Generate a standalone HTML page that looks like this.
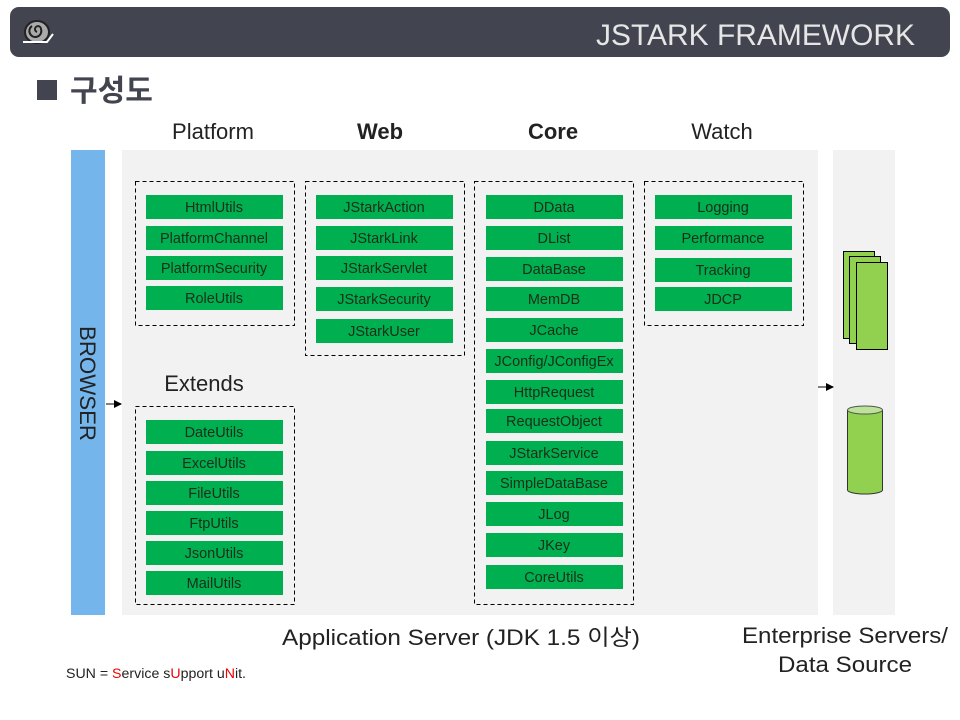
<!DOCTYPE html>
<html><head><meta charset="utf-8"><style>
html,body{margin:0;padding:0;background:#fff;width:960px;height:720px;overflow:hidden}
text{font-family:"Liberation Sans","Noto Sans CJK KR",sans-serif}
</style></head><body>
<svg width="960" height="720" viewBox="0 0 960 720" xmlns="http://www.w3.org/2000/svg">
<defs>
<marker id="ar" markerWidth="8" markerHeight="8" refX="7" refY="4" orient="auto" markerUnits="userSpaceOnUse"><path d="M0,0 L8,4 L0,8 z" fill="#000"/></marker>
</defs>
<rect x="10" y="7" width="940" height="50" rx="9" fill="#42444f"/>
<g transform="translate(37,32)">
<ellipse cx="0" cy="0" rx="12" ry="11" fill="#aaa" stroke="#222" stroke-width="2"/>
<path d="M0,0 a3,3 0 1,1 4,-3 a6,6 0 1,1 -9,-3" fill="none" stroke="#222" stroke-width="2"/>
<path d="M-14,10 L10,10 L16,2" fill="none" stroke="#fff" stroke-width="2"/>
</g>
<text x="596" y="45" fill="#e6e6e6" font-size="30" textLength="319" lengthAdjust="spacingAndGlyphs">JSTARK FRAMEWORK</text>
<rect x="37" y="80" width="20" height="20" fill="#42444f"/>
<text x="70" y="101" fill="#42444f" font-size="30" font-weight="bold">구성도</text>

<rect x="71" y="150" width="34" height="465" fill="#74b5ec"/>
<text transform="translate(80,326) rotate(90)" font-size="22" fill="#222" textLength="115" lengthAdjust="spacingAndGlyphs">BROWSER</text>
<rect x="122" y="150" width="696" height="465" fill="#f2f2f2"/>
<rect x="833" y="150" width="62" height="465" fill="#f2f2f2"/>

<g font-size="22" fill="#222" text-anchor="middle">
<text x="213" y="139">Platform</text>
<text x="380" y="139" font-weight="bold">Web</text>
<text x="553" y="139" font-weight="bold">Core</text>
<text x="722" y="139">Watch</text>
<text x="204" y="391">Extends</text>
<text x="461" y="645" textLength="358" lengthAdjust="spacingAndGlyphs">Application Server (JDK 1.5 이상)</text>
<text x="845" y="643" textLength="206" lengthAdjust="spacingAndGlyphs">Enterprise Servers/</text>
<text x="845" y="672" textLength="134" lengthAdjust="spacingAndGlyphs">Data Source</text>
</g>

<g fill="none" stroke="#000" stroke-width="1" stroke-dasharray="4,3">
<rect x="135.5" y="181.5" width="159" height="144"/>
<rect x="305.5" y="181.5" width="159" height="174"/>
<rect x="474.5" y="181.5" width="159" height="423"/>
<rect x="644.5" y="181.5" width="159" height="144"/>
<rect x="135.5" y="406.5" width="159" height="198"/>
</g>

<g font-size="14.5" fill="#1a2e1a" text-anchor="middle">
<g transform="translate(146,0)">
<rect y="195" width="137" height="24" fill="#00b050"/><text x="68" y="212">HtmlUtils</text>
<rect y="226" width="137" height="24" fill="#00b050"/><text x="68" y="243">PlatformChannel</text>
<rect y="256" width="137" height="24" fill="#00b050"/><text x="68" y="273">PlatformSecurity</text>
<rect y="286" width="137" height="24" fill="#00b050"/><text x="68" y="303">RoleUtils</text>
<rect y="420" width="137" height="24" fill="#00b050"/><text x="68" y="437">DateUtils</text>
<rect y="451" width="137" height="24" fill="#00b050"/><text x="68" y="468">ExcelUtils</text>
<rect y="481" width="137" height="24" fill="#00b050"/><text x="68" y="498">FileUtils</text>
<rect y="511" width="137" height="24" fill="#00b050"/><text x="68" y="528">FtpUtils</text>
<rect y="541" width="137" height="24" fill="#00b050"/><text x="68" y="558">JsonUtils</text>
<rect y="571" width="137" height="24" fill="#00b050"/><text x="68" y="588">MailUtils</text>
</g>
<g transform="translate(316,0)">
<rect y="195" width="137" height="24" fill="#00b050"/><text x="68" y="212">JStarkAction</text>
<rect y="226" width="137" height="24" fill="#00b050"/><text x="68" y="243">JStarkLink</text>
<rect y="256" width="137" height="24" fill="#00b050"/><text x="68" y="273">JStarkServlet</text>
<rect y="287" width="137" height="24" fill="#00b050"/><text x="68" y="304">JStarkSecurity</text>
<rect y="319" width="137" height="24" fill="#00b050"/><text x="68" y="336">JStarkUser</text>
</g>
<g transform="translate(486,0)">
<rect y="195" width="137" height="24" fill="#00b050"/><text x="68" y="212">DData</text>
<rect y="226" width="137" height="24" fill="#00b050"/><text x="68" y="243">DList</text>
<rect y="257" width="137" height="24" fill="#00b050"/><text x="68" y="274">DataBase</text>
<rect y="287" width="137" height="24" fill="#00b050"/><text x="68" y="304">MemDB</text>
<rect y="318" width="137" height="24" fill="#00b050"/><text x="68" y="335">JCache</text>
<rect y="349" width="137" height="24" fill="#00b050"/><text x="68" y="366">JConfig/JConfigEx</text>
<rect y="380" width="137" height="24" fill="#00b050"/><text x="68" y="397">HttpRequest</text>
<rect y="409" width="137" height="24" fill="#00b050"/><text x="68" y="426">RequestObject</text>
<rect y="441" width="137" height="24" fill="#00b050"/><text x="68" y="458">JStarkService</text>
<rect y="471" width="137" height="24" fill="#00b050"/><text x="68" y="488">SimpleDataBase</text>
<rect y="502" width="137" height="24" fill="#00b050"/><text x="68" y="519">JLog</text>
<rect y="533" width="137" height="24" fill="#00b050"/><text x="68" y="550">JKey</text>
<rect y="565" width="137" height="24" fill="#00b050"/><text x="68" y="582">CoreUtils</text>
</g>
<g transform="translate(655,0)">
<rect y="195" width="137" height="24" fill="#00b050"/><text x="68" y="212">Logging</text>
<rect y="226" width="137" height="24" fill="#00b050"/><text x="68" y="243">Performance</text>
<rect y="258" width="137" height="24" fill="#00b050"/><text x="68" y="275">Tracking</text>
<rect y="287" width="137" height="24" fill="#00b050"/><text x="68" y="304">JDCP</text>
</g>
</g>

<line x1="106" y1="404" x2="121" y2="404" stroke="#555" stroke-width="1.5" marker-end="url(#ar)"/>
<line x1="818" y1="387" x2="833" y2="387" stroke="#555" stroke-width="1.5" marker-end="url(#ar)"/>

<g fill="#92d050" stroke="#000" stroke-width="1">
<rect x="843.5" y="251.5" width="31" height="87"/>
<rect x="849.5" y="256.5" width="31" height="87"/>
<rect x="856.5" y="262.5" width="31" height="87"/>
<path d="M847.5,410 L847.5,490 A17.5,4 0 0,0 882.5,490 L882.5,410" stroke="#333"/>
<ellipse cx="865" cy="410" rx="17.5" ry="4" fill="#bde39a" stroke="#555"/>
</g>

<text x="66" y="678" font-size="13.5" fill="#222" textLength="180" lengthAdjust="spacingAndGlyphs">SUN = <tspan fill="#e00">S</tspan>ervice s<tspan fill="#e00">U</tspan>pport  u<tspan fill="#e00">N</tspan>it.</text>
</svg>
</body></html>
